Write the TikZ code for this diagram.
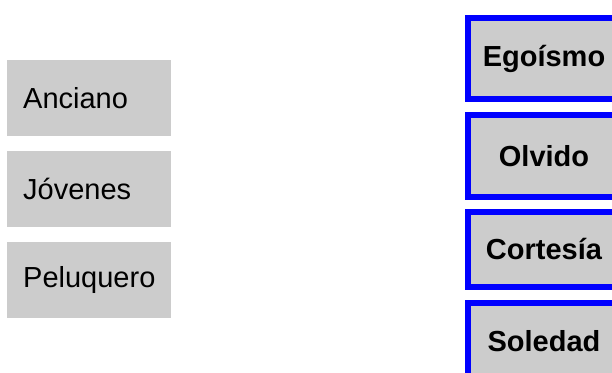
\documentclass[tikz,border=0pt]{standalone}
\usepackage{fontspec}
\setmainfont{Liberation Sans}
\usetikzlibrary{positioning}

\definecolor{boxgray}{RGB}{204,204,204}

\tikzset{
  leftbox/.style={fill=boxgray, anchor=north west, minimum width=164pt, minimum height=76pt,
    inner xsep=16pt, text width=132pt, align=left, font=\fontsize{29}{34}\selectfont},
  wordbox/.style={fill=boxgray, draw=blue, line width=6pt, anchor=north west, minimum width=152pt,
    inner sep=0pt, font=\bfseries\fontsize{29}{34}\selectfont}
}

\begin{document}
\begin{tikzpicture}[x=1pt, y=-1pt]
\clip (0,0) rectangle (612,372);

% personajes
\node[leftbox] (anciano) at (7,60) {Anciano};
\node[leftbox] (jovenes) at (7,151) {Jóvenes};
\node[leftbox] (peluquero) at (7,242) {Peluquero};

% valores
\node[wordbox, minimum height=81pt] (egoismo) at (465,15) {Egoísmo};
\node[wordbox, minimum height=82pt] (olvido) at (465,112) {Olvido};
\node[wordbox, minimum height=75pt] (cortesia) at (465,209) {Cortesía};
\node[wordbox, minimum height=76pt] (soledad) at (465,300) {Soledad};
\end{tikzpicture}
\end{document}
